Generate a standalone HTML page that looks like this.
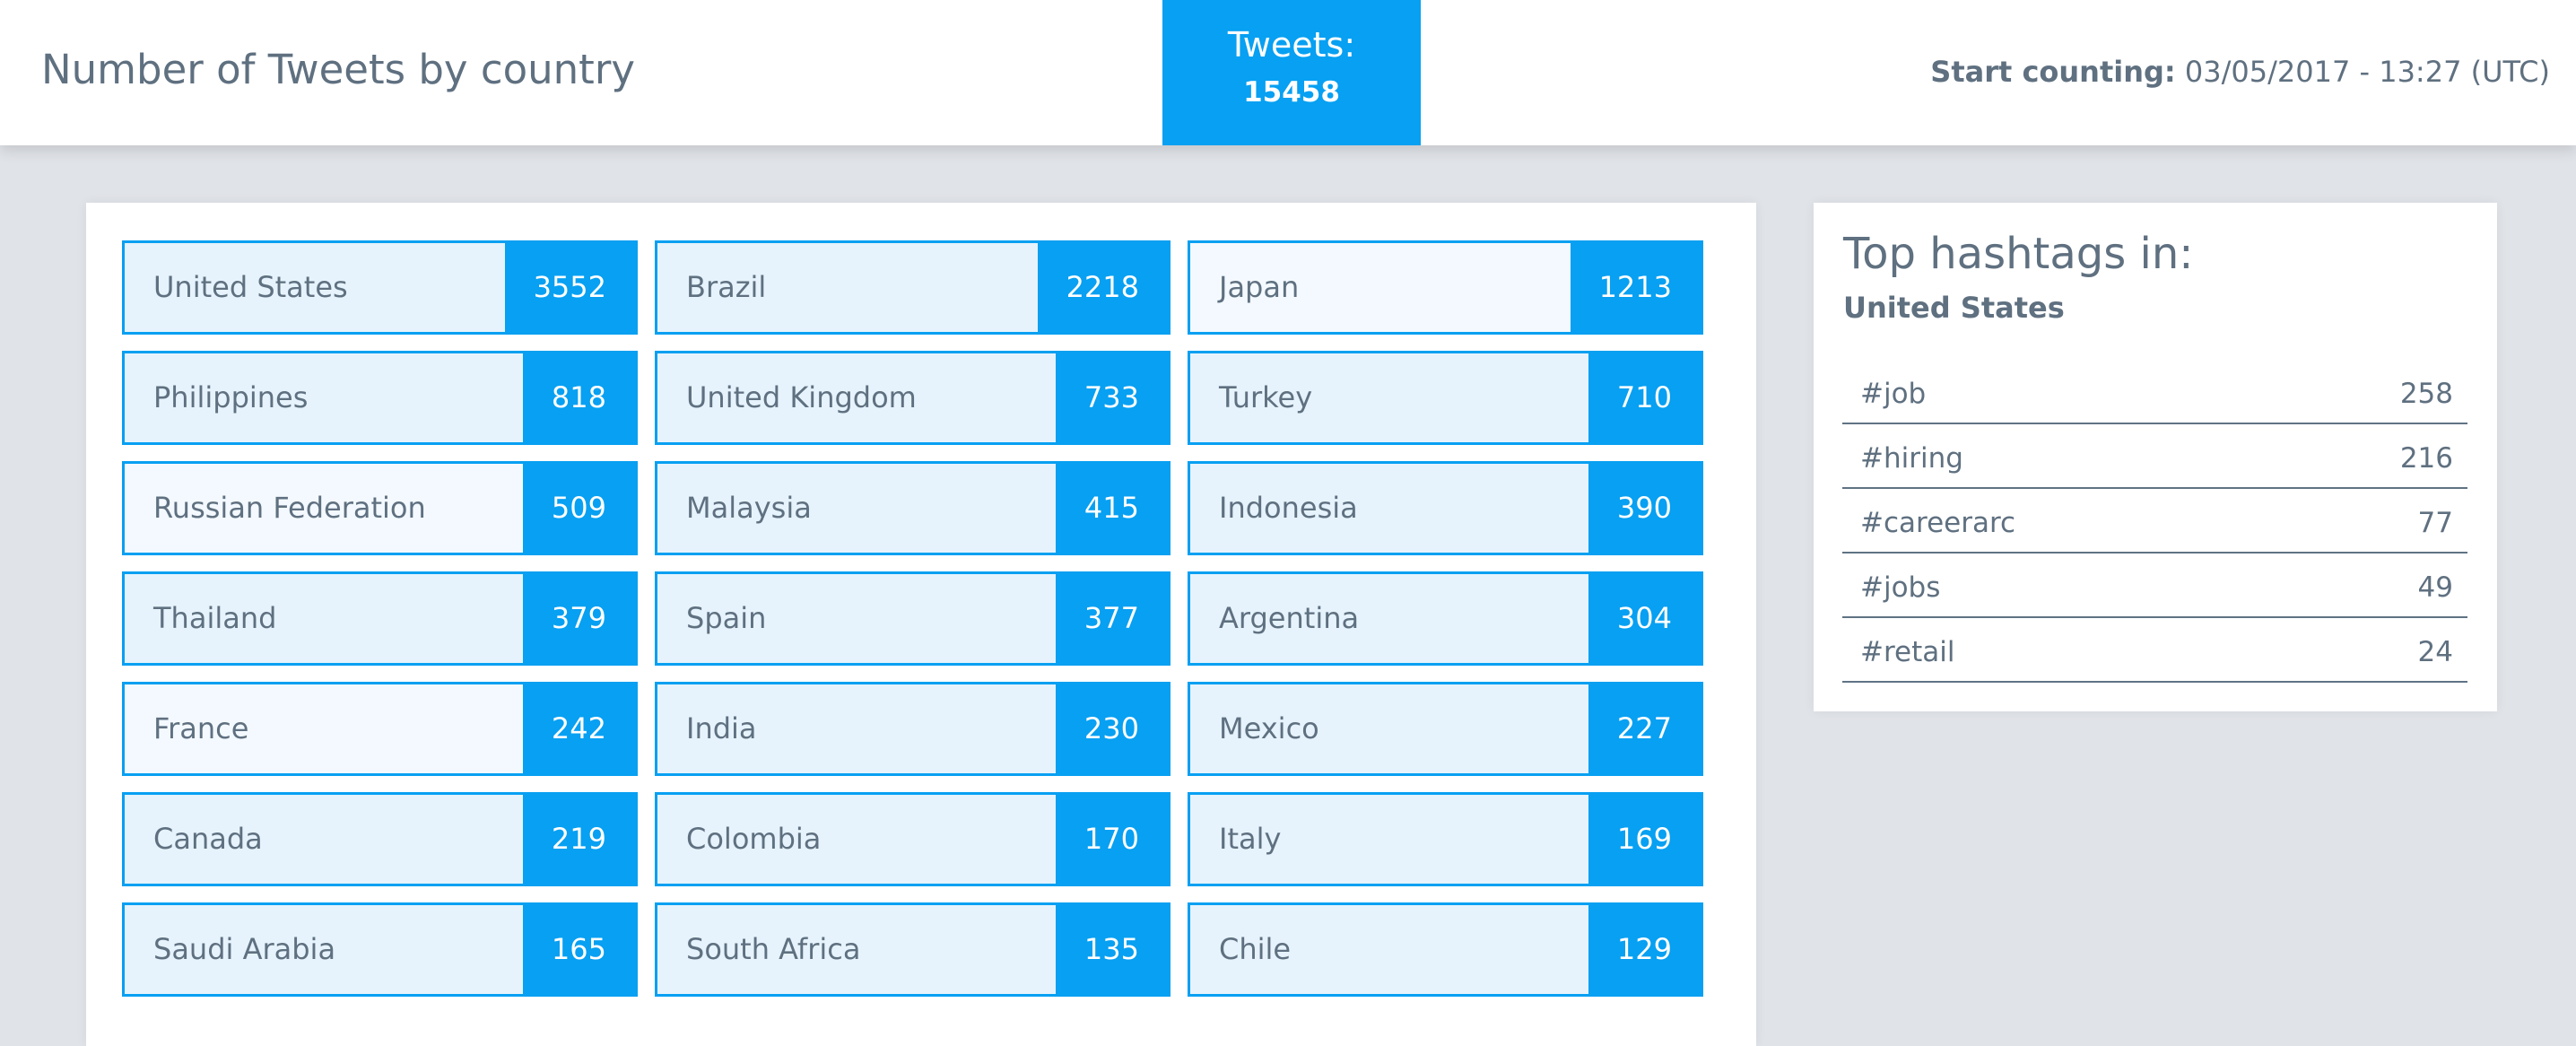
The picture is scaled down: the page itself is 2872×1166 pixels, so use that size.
<!DOCTYPE html>
<html><head><meta charset="utf-8">
<style>
*{box-sizing:border-box;margin:0;padding:0}
body{width:2872px;height:1126px;overflow:hidden;background:#e0e3e8;font-family:"DejaVu Sans","Liberation Sans",sans-serif;color:#5f7080;position:relative}
#header{position:absolute;left:0;top:0;width:2872px;height:162px;background:#fff;box-shadow:0 6px 14px rgba(0,0,0,0.12)}
#title{position:absolute;left:46px;top:51px;font-size:45px;white-space:nowrap}
#tweets{position:absolute;left:1296px;top:0;width:288px;height:162px;background:#07a0f2;color:#fff;text-align:center}
#tweets .l{position:absolute;left:0;right:0;top:28px;font-size:38px}
#tweets .v{position:absolute;left:0;right:0;top:85px;font-size:31px;font-weight:bold}
#start{position:absolute;right:29px;top:61px;font-size:32px;white-space:nowrap}
#card{position:absolute;left:96px;top:226px;width:1862px;height:940px;background:#fff;box-shadow:0 0 12px rgba(0,0,0,0.06)}
.box{position:absolute;width:575px;height:105px;border:3px solid #07a0f2;background:#e6f3fc}
.box .n{position:absolute;left:32px;top:0;line-height:99px;font-size:32px;white-space:nowrap}
.box .c{position:absolute;right:0;top:0;height:99px;line-height:99px;background:#07a0f2;color:#fff;font-size:32px;padding:0 32px}
#hcard{position:absolute;left:2022px;top:226px;width:762px;height:567px;background:#fff;box-shadow:0 0 12px rgba(0,0,0,0.06)}
#htitle{position:absolute;left:33px;top:29px;font-size:48px;white-space:nowrap}
#hsub{position:absolute;left:33px;top:98px;font-size:32px;font-weight:bold}
.hrow{position:absolute;left:32px;width:697px;height:72px;border-bottom:2px solid #5f7384;font-size:31px}
.hrow .t{position:absolute;left:20px;bottom:14px}
.hrow .v{position:absolute;right:16px;bottom:14px}
</style></head><body>
<div id="header">
  <div id="title">Number of Tweets by country</div>
  <div id="tweets">
    <div class="l">Tweets:</div>
    <div class="v">15458</div>
  </div>
  <div id="start"><b>Start counting:</b> 03/05/2017 - 13:27 (UTC)</div>
</div>
<div id="card"></div>
<div id="hcard">
  <div id="htitle">Top hashtags in:</div>
  <div id="hsub">United States</div>
</div>
<script>
const countries=["United States","Brazil","Japan","Philippines","United Kingdom","Turkey","Russian Federation","Malaysia","Indonesia","Thailand","Spain","Argentina","France","India","Mexico","Canada","Colombia","Italy","Saudi Arabia","South Africa","Chile"];
const counts=[3552,2218,1213,818,733,710,509,415,390,379,377,304,242,230,227,219,170,169,165,135,129];
const hashtags=["#job","#hiring","#careerarc","#jobs","#retail"];
const hashCounts=[258,216,77,49,24];
const lighter=["Japan","Russian Federation","France"];
const card=document.getElementById('card');
countries.forEach((name,i)=>{
  const col=i%3,row=Math.floor(i/3);
  const b=document.createElement('div');
  b.className='box';
  
  
  b.style.left=(40+col*594)+'px';
  b.style.top=(42+row*123)+'px';
  if(lighter.includes(name))b.style.background='#f3f9fe';
  const n=document.createElement('div');n.className='n';n.textContent=name;
  
  
  const c=document.createElement('div');c.className='c';c.textContent=counts[i];
  
  
  b.appendChild(n);b.appendChild(c);card.appendChild(b);
});
const hc=document.getElementById('hcard');
hashtags.forEach((h,i)=>{
  const r=document.createElement('div');r.className='hrow';
  
  
  r.style.top=(175+i*72)+'px';
  const t=document.createElement('div');t.className='t';t.textContent=h;
  
  
  const v=document.createElement('div');v.className='v';v.textContent=hashCounts[i];
  
  
  r.appendChild(t);r.appendChild(v);hc.appendChild(r);
});
</script>
</body></html>
